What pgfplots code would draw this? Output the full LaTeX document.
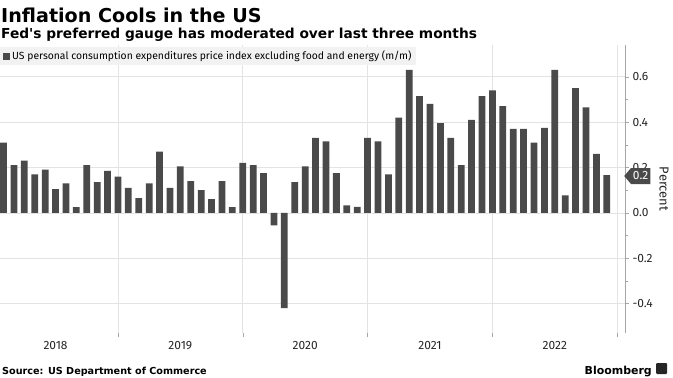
\documentclass[border=0pt]{standalone}
\usepackage{pgfplots}
\pgfplotsset{compat=1.18}
\usepackage{fontspec}
\setmainfont{Fira Sans}
\newfontfamily\headfont{DejaVu Sans}
\usetikzlibrary{shapes.symbols}
\definecolor{barc}{HTML}{4A4A4A}
\definecolor{gridc}{HTML}{E3E3E3}
\definecolor{legc}{HTML}{F2F2F2}
\begin{document}
\begin{tikzpicture}
\path[use as bounding box] (0,0) rectangle (673bp,-378bp);
\node[anchor=base west, font=\headfont\bfseries\fontsize{19.2}{19.2}\selectfont, inner sep=0] at (1bp,-22bp) {Inflation Cools in the US};
\node[anchor=base west, font=\headfont\bfseries\fontsize{13.8}{13.8}\selectfont, inner sep=0] at (1bp,-38bp) {Fed's preferred gauge has moderated over last three months};
\begin{axis}[
  at={(0bp,-333bp)}, anchor=south west,
  scale only axis, width=625bp, height=288bp,
  xmin=0.66, xmax=60.75, ymin=-0.53, ymax=0.74,
  axis y line*=right, axis x line*=bottom,
  x axis line style={draw=none},
  y axis line style={draw=gray!70},
  tick align=outside,
  major tick length=4bp, minor tick length=3bp,
  tick style={gray!70, thin},
  xtick={12,24,36,48,60}, xticklabels={},
  extra x ticks={6,18,30,42,54},
  extra x tick labels={2018,2019,2020,2021,2022},
  extra x tick style={grid=none, major tick length=0pt, tick label style={yshift=-5bp}},
  xmajorgrids, ymajorgrids,
  grid style={gridc, line width=0.6pt},
  ytick={-0.4,-0.2,0,0.2,0.4,0.6},
  minor y tick num=1,
  yticklabel pos=right,
  /pgf/number format/assume math mode=true,
  yticklabel style={/pgf/number format/fixed, /pgf/number format/fixed zerofill, /pgf/number format/precision=1},
  tick label style={font=\fontsize{12}{12}\selectfont, text=black!85},
  ylabel={Percent},
  ylabel style={rotate=180, font=\fontsize{13}{13}\selectfont, text=black!85},
  legend style={at={(0,1)}, anchor=north west, yshift=-2bp, fill=legc, draw=none,
    font=\fontsize{10.4}{10.4}\selectfont, inner xsep=3bp, inner ysep=2bp},
  legend image code/.code={\fill[barc] (0bp,-3.5bp) rectangle (7bp,3.5bp);},
  legend cell align=left,
]
\addplot[ybar, bar width=0.65, fill=barc, draw=none] coordinates {
(1,0.31) (2,0.21) (3,0.23) (4,0.17) (5,0.19) (6,0.105) (7,0.13) (8,0.025) (9,0.21) (10,0.135) (11,0.185) (12,0.16)
(13,0.11) (14,0.065) (15,0.13) (16,0.27) (17,0.11) (18,0.205) (19,0.14) (20,0.10) (21,0.06) (22,0.14) (23,0.025) (24,0.22)
(25,0.21) (26,0.175) (27,-0.055) (28,-0.42) (29,0.135) (30,0.205) (31,0.33) (32,0.315) (33,0.175) (34,0.033) (35,0.026) (36,0.33)
(37,0.315) (38,0.17) (39,0.42) (40,0.63) (41,0.515) (42,0.48) (43,0.395) (44,0.33) (45,0.21) (46,0.41) (47,0.515) (48,0.54)
(49,0.47) (50,0.37) (51,0.37) (52,0.31) (53,0.375) (54,0.63) (55,0.077) (56,0.55) (57,0.465) (58,0.26) (59,0.166)
};
\addlegendentry{US personal consumption expenditures price index excluding food and energy (m/m)}
\end{axis}
\node[signal, signal to=west, signal pointer angle=100, fill=barc, text=white, font=\fontsize{12}{12}\selectfont, inner xsep=2bp, inner ysep=1.5bp, anchor=west, minimum height=16bp] at (624bp,-176bp) {0.2};
\node[anchor=base west, font=\headfont\bfseries\fontsize{9.7}{9.7}\selectfont, inner sep=0] at (2bp,-374bp) {Source: US Department of Commerce};
\node[anchor=base east, font=\headfont\bfseries\fontsize{11}{11}\selectfont, inner sep=0] at (652bp,-374bp) {Bloomberg};
\fill[black!85, rounded corners=1bp] (656bp,-374bp) rectangle (667bp,-363bp);
\end{tikzpicture}
\end{document}
